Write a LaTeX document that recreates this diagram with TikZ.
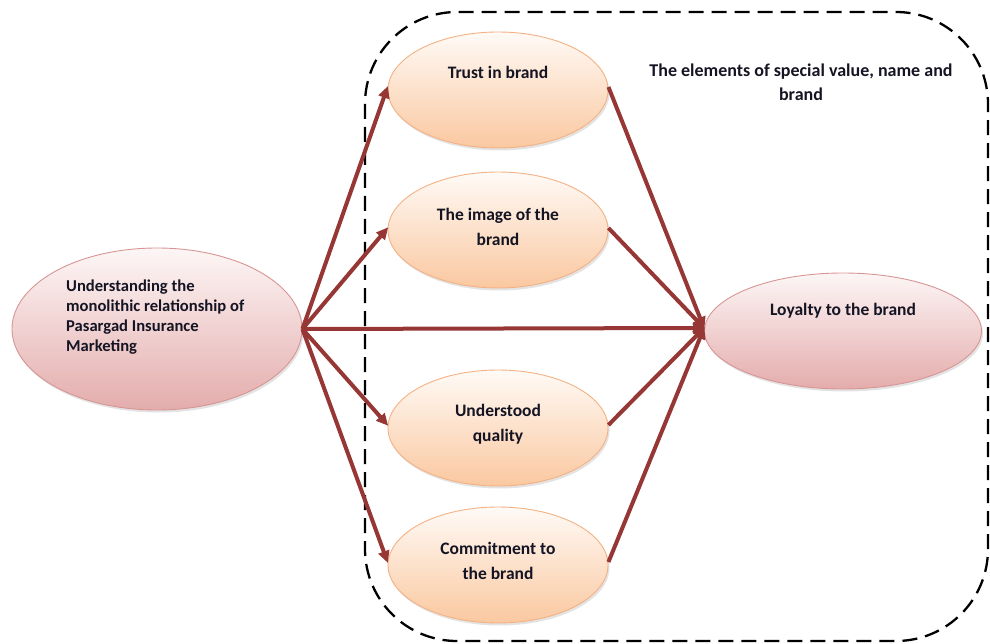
\documentclass[tikz,border=0pt]{standalone}
\usepackage{fontspec}
\setmainfont{Carlito}
\usetikzlibrary{arrows.meta,shapes.geometric,shadows}

\definecolor{linkred}{RGB}{150,55,53}
\definecolor{peachtop}{RGB}{255,250,246}
\definecolor{peachbot}{RGB}{250,200,160}
\definecolor{peachline}{RGB}{244,177,131}
\definecolor{rosetop}{RGB}{253,246,246}
\definecolor{rosebot}{RGB}{228,172,172}
\definecolor{roseline}{RGB}{215,150,148}
\definecolor{inkdark}{RGB}{20,20,35}

\tikzset{
  oval/.style={ellipse, inner sep=0pt, line width=0.9pt,
    drop shadow={shadow xshift=1.5pt, shadow yshift=-2.5pt, opacity=0.22}},
  peach/.style={oval, draw=peachline, top color=peachtop, bottom color=peachbot,
    minimum width=220pt, minimum height=116pt},
  rose/.style={oval, draw=roseline, top color=rosetop, bottom color=rosebot},
  lbl/.style={font=\fontsize{17.5}{25.5}\selectfont\bfseries, text=inkdark,
    align=center, inner sep=0pt},
  link/.style={draw=linkred, line width=4pt,
    -{Triangle[length=12pt,width=11pt]}, shorten >=-1pt},
  zone/.style={draw=black, line width=2.3pt, dash pattern=on 15pt off 8pt,
    rounded corners=92pt}
}

\begin{document}
\begin{tikzpicture}[x=1pt,y=-1pt]
  \useasboundingbox (0,0) rectangle (990,644);

  % dashed zone grouping the brand-value elements
  \draw[zone] (365,12) rectangle (988,641);
  \node[lbl, font=\fontsize{18}{24}\selectfont\bfseries] (zonetitle) at (801,82)
    {The elements of special value, name and\\brand};

  % ovals
  \node[rose, minimum width=290pt, minimum height=162pt] (src) at (157,329) {};
  \node[peach] (trust)  at (498,90)  {};
  \node[peach] (image)  at (498,230) {};
  \node[peach] (qual)   at (498,428) {};
  \node[peach] (commit) at (498,565) {};
  \node[rose, minimum width=277pt, minimum height=116pt] (loyal) at (843,331) {};

  % labels
  \node[lbl, align=left, font=\fontsize{16.6}{20}\selectfont\bfseries, anchor=west]
    (srct) at (66,317)
    {Understanding the\\monolithic relationship of\\Pasargad Insurance\\Marketing};
  \node[lbl] (trustt)  at (498,72)  {Trust in brand};
  \node[lbl] (imaget)  at (498,227) {The image of the\\brand};
  \node[lbl] (qualt)   at (498,424) {Understood\\quality};
  \node[lbl] (committ) at (498,561) {Commitment to\\the brand};
  \node[lbl] (loyalt)  at (843,311) {Loyalty to the brand};

  % connectors
  \coordinate (hub) at (src.east);
  \coordinate (sink) at ([yshift=3pt]loyal.west);
  \draw[link] (hub) -- ([yshift=3pt]trust.west);
  \draw[link] (hub) -- ([yshift=2pt]image.west);
  \draw[link] (hub) -- ([yshift=3pt]qual.west);
  \draw[link] (hub) -- ([yshift=3pt]commit.west);
  \draw[link] (hub) -- (sink);
  \draw[link] ([yshift=3pt]trust.east) -- (sink);
  \draw[link] ([yshift=2pt]image.east) -- (sink);
  \draw[link] ([yshift=3pt]qual.east) -- (sink);
  \draw[link] ([yshift=3pt]commit.east) -- (sink);
\end{tikzpicture}
\end{document}
